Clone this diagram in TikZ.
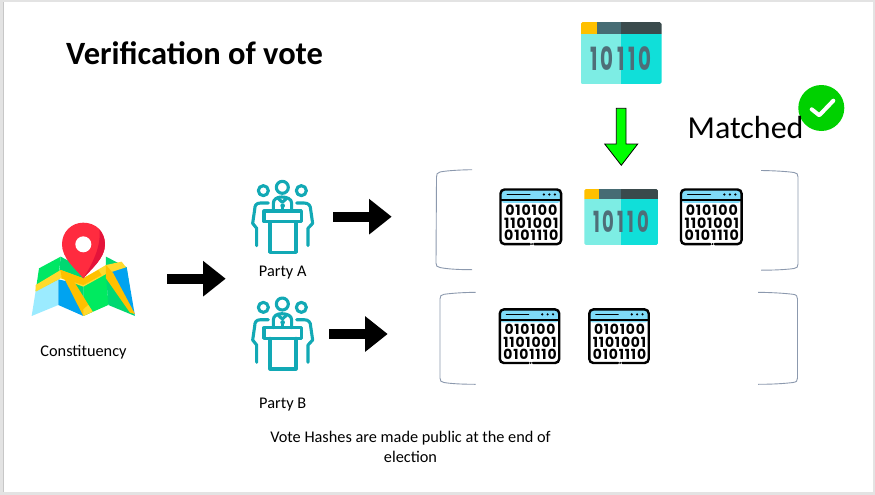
\documentclass[tikz,border=0pt]{standalone}
\usepackage{fontspec}
\setmainfont{Carlito}
\newfontfamily\digitfont[LetterSpace=6]{Poppins}
\newfontfamily\carddigitfont[LetterSpace=17]{Poppins}
\usetikzlibrary{arrows.meta}
\definecolor{sky}{HTML}{7FDBF8}
\definecolor{tealc}{HTML}{12A9B5}
\definecolor{cardL}{HTML}{7DEDE4}
\definecolor{cardR}{HTML}{10DFD9}
\definecolor{barA}{HTML}{FFC000}
\definecolor{barB}{HTML}{466C74}
\definecolor{barC}{HTML}{3A4A4C}
\definecolor{digitc}{HTML}{4E6E78}
\definecolor{brk}{HTML}{8C99AE}
\definecolor{okg}{HTML}{00D100}
\definecolor{mapG}{HTML}{00D872}
\definecolor{mapH}{HTML}{00EA60}
\definecolor{mapB}{HTML}{00A3F0}
\definecolor{mapL}{HTML}{9BEBFF}
\definecolor{roadY}{HTML}{FFDA2D}
\definecolor{roadO}{HTML}{FFC000}
\definecolor{pinR}{HTML}{FF2B3F}
\definecolor{pinD}{HTML}{E4133A}
\tikzset{
  blockarrow/.style={line width=10pt,draw=black,-{Triangle[length=22.5pt,width=34pt,inset=0pt]}},
  brack/.style={draw=brk,line width=0.9pt},
  lbl/.style={font=\fontsize{16.3}{20}\selectfont,inner sep=0pt,align=center},
  digitbit/.style={font=\digitfont\fontsize{14.2}{12.9}\selectfont\bfseries,inner sep=0pt,transform shape,align=center},
  carddigits/.style={font=\carddigitfont\fontsize{32}{32}\selectfont\bfseries,text=digitc,inner sep=0pt,transform shape,xscale=0.62},
  binwinpic/.pic={
    \fill[white] (-30,-27) rectangle (30,27);
    \fill[sky,rounded corners=3pt] (-30,-27) rectangle (30,-14);
    \fill[sky] (-30,-20) rectangle (30,-16.8);
    \draw[line width=2.4pt,rounded corners=4pt,line cap=round] (-1,27.3) -- (-30.3,27.3) -- (-30.3,-27.3) -- (30.3,-27.3) -- (30.3,27.3) -- (3.5,27.3);
    \draw[line width=1.6pt] (-30,-16.8) -- (30,-16.8);
    \draw[line width=1.6pt,line cap=round] (-23.5,-22.3) -- (-1,-22.3);
    \foreach \xx in {13,18.5,24} {\fill (\xx,-22.3) circle (1.2);}
    \fill (1.2,27.3) circle (1.1);
    \node[digitbit] at (0.5,6) {010100\\1101001\\0101110};
  },
  cardpic/.pic={
    \begin{scope}
    \clip[rounded corners=1.8pt] (-40.5,-31) rectangle (40.5,31);
    \fill[cardL] (-40.5,-19.5) rectangle (0,31);
    \fill[cardR] (0,-19.5) rectangle (40.5,31);
    \fill[barA] (-40.5,-31) rectangle (-24,-19.5);
    \fill[barB] (-24,-31) rectangle (0,-19.5);
    \fill[barC] (0,-31) rectangle (40.5,-19.5);
    \end{scope}
    \node[carddigits] at (0,5.5) {10110};
  },
  partypic/.pic={
    \begin{scope}[x=0.3333pt,y=-0.3333pt,line width=3.1pt,draw=tealc,line cap=round,line join=round]
    \draw (127,37) circle (18);
    \draw (70,47) circle (15);
    \draw (184,47) circle (15);
    \draw (72,108) rectangle (184,140);
    \draw (90,140) -- (90,232) -- (168,232) -- (168,140);
    \draw (100,108) -- (100,85) .. controls (100,72) and (112,66) .. (125,66) .. controls (142,66) and (155,72) .. (155,85) -- (155,108);
    \draw (114,70) -- (127,82) -- (140,70);
    \draw (128,92) -- (128,106);
    \fill[tealc] (128,92) circle (7);
    \draw (85,84) -- (62,84) .. controls (48,84) and (44,92) .. (44,104) -- (38,145) -- (50,160) -- (50,212);
    \draw (170,84) -- (192,84) .. controls (206,84) and (212,92) .. (212,104) -- (218,145) -- (204,160) -- (204,212);
    \end{scope}
  },
  mappic/.pic={
    \begin{scope}[x=0.3333pt,y=-0.3333pt]
    % panels
    \fill[mapL] (47,243) -- (115,208) -- (115,285) -- (35,318) -- cycle;
    \fill[mapH!80!mapG] (57,175) -- (122,140) -- (115,208) -- (47,243) -- cycle;
    \fill[mapG] (122,140) -- (190,175) -- (190,210) -- (118,185) -- cycle;
    \fill[mapB] (115,208) -- (190,225) -- (190,318) -- (115,285) -- cycle;
    \fill[mapG] (118,185) -- (190,205) -- (190,270) -- cycle;
    \fill[mapH] (190,205) -- (258,170) -- (265,285) -- (190,318) -- cycle;
    \fill[mapG] (258,140) -- (320,172) -- (330,240) -- (258,170) -- cycle;
    \fill[mapB] (258,170) -- (320,172) -- (345,318) -- cycle;
    \fill[mapG] (258,190) -- (345,318) -- (265,285) -- cycle;
    % roads
    \fill[roadY] (47,225) -- (122,180) -- (190,205) -- (258,165) -- (305,155) -- (318,172) -- (262,190) -- (190,230) -- (122,205) -- (47,245) -- cycle;
    \fill[roadO] (120,180) -- (150,195) -- (218,305) -- (190,318) -- cycle;
    \fill[roadY] (190,318) -- (190,298) -- (205,285) -- (218,305) -- cycle;
    \fill[roadO] (258,165) -- (280,190) -- (345,312) -- (330,308) -- (258,205) -- cycle;
    \fill[roadO] (122,180) -- (190,205) -- (235,180) -- (245,195) -- (190,225) -- (125,205) -- cycle;
    % pin
    \fill[pinR] (190,205) .. controls (165,175) and (126,145) .. (126,103) .. controls (126,65) and (155,38) .. (190,38) .. controls (228,38) and (255,65) .. (255,103) .. controls (255,145) and (215,175) .. (190,205) -- cycle;
    \fill[pinD] (190,205) .. controls (215,175) and (255,145) .. (255,103) .. controls (255,85) and (248,70) .. (238,58) .. controls (245,110) and (215,165) .. (190,205) -- cycle;
    \fill[white] (190,103) circle (24);
    \end{scope}
  },
}
\begin{document}
\begin{tikzpicture}[x=1pt,y=-1pt]
\useasboundingbox (0,0) rectangle (875,495);
\fill[black!11] (0,0) rectangle (875,495);
\fill[white] (3.5,2.5) rectangle (873,491.5);
\fill[black!22] (3,2.5) rectangle (3.7,491.5);
\node[inner sep=0pt,anchor=base west,font=\fontsize{32.5}{38}\selectfont\bfseries] (title) at (66,64) {Verification of vote};

% map and parties
\pic (map) at (20,210) {mappic};
\node[lbl] (constituency) at (83.5,352.5) {Constituency};
\pic (partyA) at (240,175) {partypic};
\node[lbl] (labelA) at (282.7,273) {Party A};
\pic (partyB) at (240,291.7) {partypic};
\node[lbl] (labelB) at (282.7,405) {Party B};

% block arrows
\coordinate (a1s) at (167.3,278.7); \coordinate (a1e) at (225.7,278.7);
\coordinate (a2s) at (333.3,216.7); \coordinate (a2e) at (391.7,216.7);
\coordinate (a3s) at (329.3,334);   \coordinate (a3e) at (387.7,334);
\draw[blockarrow] (a1s) -- (a1e);
\draw[blockarrow] (a2s) -- (a2e);
\draw[blockarrow] (a3s) -- (a3e);

% brackets
\draw[brack] (472,169.7) .. controls (455,170) and (445,171) .. (440,172) .. controls (437,173) and (436.5,174) .. (436.5,177) -- (436,263) .. controls (436,266) and (437,267) .. (440,267.5) .. controls (447,269) and (458,269.7) .. (472,269.7);
\draw[brack] (761,170.5) .. controls (775,170.7) and (787,171.5) .. (794,172.5) .. controls (797,173) and (798,174) .. (798,177) -- (798,264) .. controls (798,267) and (797,268) .. (794,268.5) .. controls (787,269.5) and (775,270.2) .. (761,270.2);
\draw[brack] (475.7,292.3) .. controls (460,292.5) and (450,293.5) .. (444,294.3) .. controls (441,294.7) and (440,296) .. (440,299) -- (440,378) .. controls (440,381) and (441,382) .. (444,382.5) .. controls (450,383.5) and (460,384.3) .. (475.7,384.3);
\draw[brack] (758,292.3) .. controls (773,292.5) and (785,293.3) .. (793,294.3) .. controls (796.5,294.7) and (797.5,296) .. (797.5,299) -- (797.5,378) .. controls (797.5,381) and (796.5,382) .. (793,382.5) .. controls (785,383.5) and (773,384.3) .. (758,384.3);

% hash icons
\pic (w1) at (530.8,216.8) {binwinpic};
\pic (c2) [scale=0.91] at (621.2,217) {cardpic};
\pic (w3) at (711.3,216.8) {binwinpic};
\pic (w4) [scale=0.98] at (529.5,336.2) {binwinpic};
\pic (w5) [scale=0.98] at (619,336.2) {binwinpic};
\pic (c1) at (621,53.2) {cardpic};

% green arrow
\draw[fill=green,draw=black,line width=0.8pt,line join=miter] (616.3,108.3) -- (626,108.3) -- (626,144) -- (637.7,144) -- (621.3,165.3) -- (604.7,144) -- (616.3,144) -- cycle;

% matched
\fill[okg] (821.3,108) circle (23);
\draw[white,line width=4pt,line cap=round,line join=round] (811.7,109.3) -- (819.3,115.3) -- (833.3,100.7);
\node[inner sep=0pt,anchor=base west,font=\fontsize{32}{38}\selectfont] (matched) at (687.5,138) {Matched};

\node[lbl] (caption) at (410.5,447) {Vote Hashes are made public at the end of\\election};
\end{tikzpicture}
\end{document}
